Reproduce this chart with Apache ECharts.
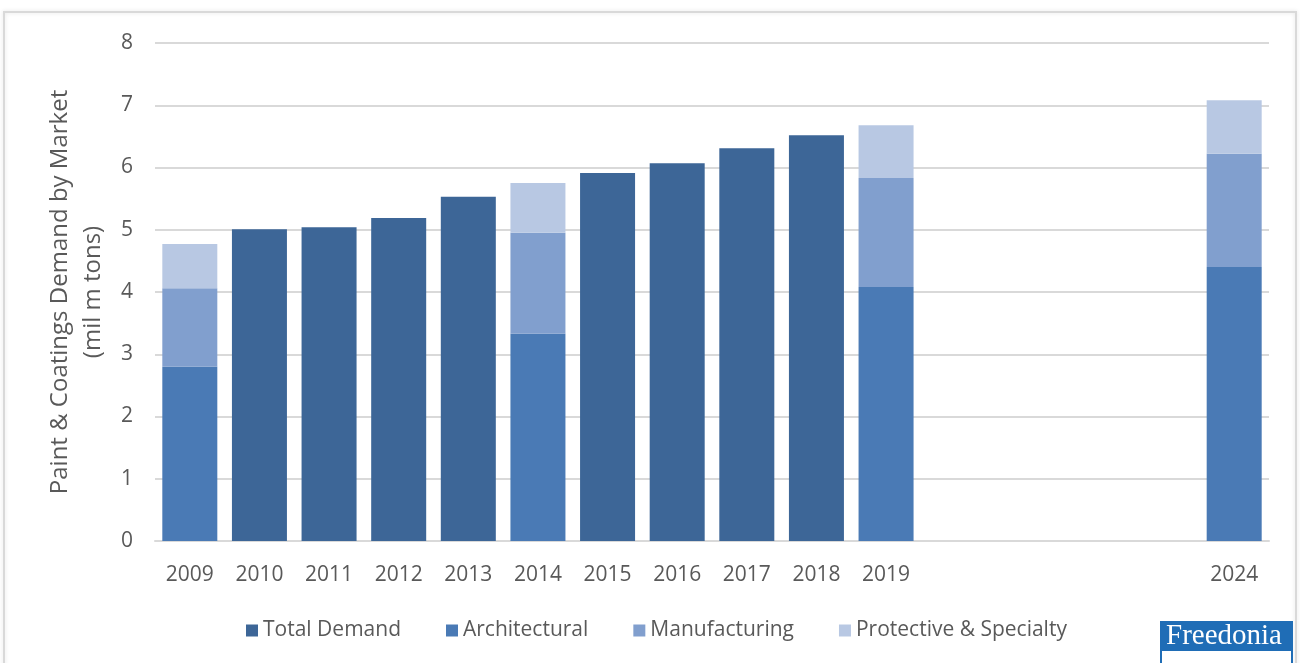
<!DOCTYPE html>
<html>
<head>
<meta charset="utf-8">
<script src="https://cdn.jsdelivr.net/npm/echarts@6/dist/echarts.min.js"></script>
<style>
  html, body { margin: 0; padding: 0; background: #ffffff; }
  #chart { width: 1300px; height: 663px; }
</style>
</head>
<body>
<div id="chart"></div>
<script>
// Years on the category axis; 2020-2023 are kept as empty slots so 2024 sits at its true distance.
const years = ['2009','2010','2011','2012','2013','2014','2015','2016','2017','2018','2019','2020','2021','2022','2023','2024'];
const shownYears = ['2009','2010','2011','2012','2013','2014','2015','2016','2017','2018','2019','2024'];

// Demand in million metric tons
const totalDemand   = [null, 5.01, 5.04, 5.19, 5.53, null, 5.91, 6.07, 6.31, 6.52, null, null, null, null, null, null];
const architectural = [2.80, null, null, null, null, 3.33, null, null, null, null, 4.08, null, null, null, null, 4.40];
const manufacturing = [1.26, null, null, null, null, 1.62, null, null, null, null, 1.75, null, null, null, null, 1.82];
const protective    = [0.71, null, null, null, null, 0.80, null, null, null, null, 0.85, null, null, null, null, 0.86];

const yTicks = [0, 1, 2, 3, 4, 5, 6, 7, 8];

const font = '"Open Sans", Lato, sans-serif';
const textColor = '#595959';

const chart = echarts.init(document.getElementById('chart'));

function barSeries(name, data, color) {
  return {
    name: name,
    type: 'bar',
    stack: 'demand',
    data: data,
    barWidth: '79%',
    itemStyle: { color: color },
    emphasis: { disabled: true }
  };
}

chart.setOption({
  animation: false,
  textStyle: { fontFamily: font },
  grid: { left: 155, right: 31, top: 43, bottom: 122 },
  legend: {
    left: 241,
    top: 615,
    itemWidth: 12,
    itemHeight: 12,
    itemGap: 45,
    icon: 'rect',
    textStyle: { fontFamily: font, fontSize: 21, color: textColor, padding: [0, 0, 0, 0] },
    data: ['Total Demand', 'Architectural', 'Manufacturing', 'Protective & Specialty']
  },
  xAxis: {
    type: 'category',
    data: years,
    axisLine: { lineStyle: { color: '#d9d9d9', width: 2 } },
    axisTick: { show: false },
    axisLabel: {
      interval: 0,
      margin: 24,
      fontSize: 21,
      color: textColor,
      fontFamily: font,
      formatter: v => shownYears.includes(v) ? v : ''
    }
  },
  yAxis: {
    type: 'value',
    min: yTicks[0],
    max: yTicks[yTicks.length - 1],
    interval: 1,
    name: 'Paint & Coatings Demand by Market\n(mil m tons)',
    nameLocation: 'middle',
    nameGap: 44,
    nameTextStyle: { fontFamily: font, fontSize: 24, color: textColor, lineHeight: 33 },
    axisLine: { show: false },
    axisTick: { show: false },
    axisLabel: { margin: 22, fontSize: 21, color: textColor, fontFamily: font },
    splitLine: { lineStyle: { color: '#d9d9d9', width: 2 } }
  },
  series: [
    barSeries('Total Demand', totalDemand, '#3d6697'),
    barSeries('Architectural', architectural, '#4a7ab5'),
    barSeries('Manufacturing', manufacturing, '#819fce'),
    barSeries('Protective & Specialty', protective, '#b8c8e3')
  ],
  graphic: [
    {
      type: 'rect',
      silent: true,
      z: -10,
      shape: { x: 4, y: 12, width: 1292, height: 670 },
      style: { fill: 'none', stroke: '#d9d9d9', lineWidth: 2, shadowBlur: 4, shadowColor: 'rgba(0,0,0,0.12)' }
    },
    // Freedonia badge in the lower right corner
    { type: 'rect', left: 1160, top: 621, z: 10, shape: { width: 133, height: 42 }, style: { fill: '#1f6db6' } },
    { type: 'rect', left: 1162, top: 651, z: 11, shape: { width: 129, height: 12 }, style: { fill: '#ffffff' } },
    {
      type: 'text',
      z: 12,
      left: 1166,
      top: 622,
      style: {
        text: 'Freedonia',
        fill: '#ffffff',
        font: '29px "Liberation Serif", "DejaVu Serif", serif'
      }
    }
  ]
});
</script>
</body>
</html>
